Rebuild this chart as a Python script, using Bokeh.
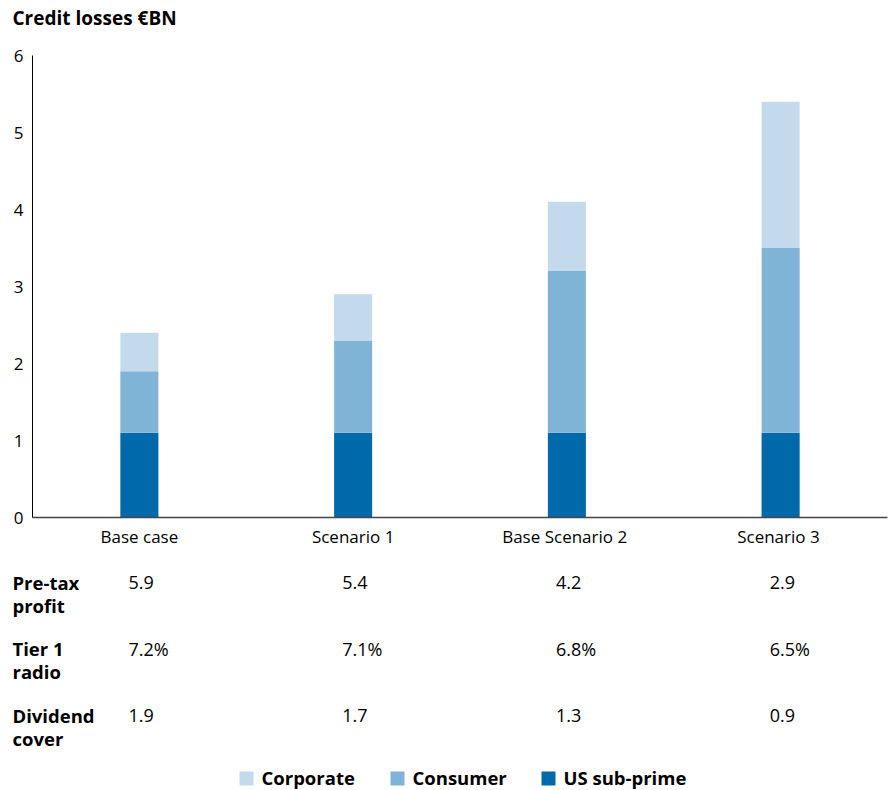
from bokeh.plotting import figure
from bokeh.models import Range1d, FactorRange, FixedTicker, ColumnDataSource
from bokeh.layouts import column
from bokeh.core.properties import value
from bokeh.embed import file_html
from bokeh.resources import INLINE

# ---- data ----
title_text = "Credit losses €BN"
categories = ["Base case", "Scenario 1", "Base Scenario  2", "Scenario  3"]
series_names = ["US sub-prime", "Consumer", "Corporate"]
us_subprime = [1.1, 1.1, 1.1, 1.1]
consumer = [0.8, 1.2, 2.1, 2.4]
corporate = [0.5, 0.6, 0.9, 1.9]
y_ticks = [0, 1, 2, 3, 4, 5, 6]

row_labels = ["Pre-tax\nprofit", "Tier 1\nradio", "Dividend\ncover"]
pretax_profit = ["5.9", "5.4", "4.2", "2.9"]
tier1_ratio = ["7.2%", "7.1%", "6.8%", "6.5%"]
dividend_cover = ["1.9", "1.7", "1.3", "0.9"]

legend_order = ["Corporate", "Consumer", "US sub-prime"]
colors = {"US sub-prime": "#0069a9", "Consumer": "#80b4d6", "Corporate": "#c2daeb"}

FONT = "Open Sans"
W = 890
LEFT, RIGHT = 32, 3
TOP = 55
H1 = 555
H2 = 235
FRAME_W = W - LEFT - RIGHT
CAT_PX = FRAME_W / len(categories)

# ---- chart ----
src = ColumnDataSource(dict(cat=categories, us=us_subprime, con=consumer, corp=corporate))
p = figure(x_range=FactorRange(*categories), y_range=Range1d(0, 6),
           width=W, height=H1, output_backend="svg", toolbar_location=None,
           min_border_left=LEFT, min_border_right=RIGHT, min_border_bottom=38,
           min_border_top=TOP)
p.vbar_stack(["us", "con", "corp"], x="cat", width=0.178, source=src,
             color=[colors["US sub-prime"], colors["Consumer"], colors["Corporate"]],
             line_width=0)

p.outline_line_color = None
p.xgrid.visible = False
p.ygrid.visible = False

p.yaxis.ticker = FixedTicker(ticks=y_ticks)
p.yaxis.bounds = (0, 6)
p.yaxis.major_tick_out = 0
p.yaxis.major_tick_in = 0
p.yaxis.minor_tick_out = 0
p.yaxis.minor_tick_in = 0
p.yaxis.major_label_standoff = 9
p.yaxis.major_label_text_font = FONT
p.yaxis.major_label_text_font_size = "17px"
p.yaxis.major_label_text_color = "black"
p.yaxis.axis_line_color = "black"

p.xaxis.major_tick_out = 0
p.xaxis.major_tick_in = 0
p.xaxis.major_label_standoff = 7
p.xaxis.major_label_text_font = FONT
p.xaxis.major_label_text_font_size = "17px"
p.xaxis.major_label_text_color = "black"
p.xaxis.axis_line_color = "#444444"
p.xaxis.axis_line_width = 1.5

# title: text glyph placed above the frame's top-left corner (overlay level, not clipped)
tsrc = ColumnDataSource(dict(x=[categories[0]], y=[y_ticks[-1]], t=[title_text]))
p.text(x="x", y="y", text="t", source=tsrc, level="overlay",
       x_offset=12 - LEFT - CAT_PX / 2, y_offset=17 - TOP,
       text_font=value(FONT), text_font_size="19px", text_font_style="bold",
       text_baseline="middle", text_align="left", text_color="black")

# ---- table and legend (frame aligned with the chart frame) ----
q = figure(x_range=Range1d(0, FRAME_W), y_range=Range1d(H2, 0), width=W, height=H2,
           output_backend="svg", toolbar_location=None,
           min_border_left=LEFT, min_border_right=RIGHT,
           min_border_top=0, min_border_bottom=0)
q.extra_x_ranges = {"cat": Range1d(0, len(categories))}
q.xaxis.visible = False
q.yaxis.visible = False
q.xgrid.visible = False
q.ygrid.visible = False
q.outline_line_color = None

row_y = [27, 93, 160]
LINE_STEP = 23
lx, ly, lt = [], [], []
for y, lab in zip(row_y, row_labels):
    for k, line in enumerate(lab.split("\n")):
        lx.append(12 - LEFT)
        ly.append(y + k * LINE_STEP)
        lt.append(line)
q.text(x=lx, y=ly, text=lt, level="overlay",
       text_font=value(FONT), text_font_size="18.5px", text_font_style="bold",
       text_baseline="middle", text_align="left", text_color="black")

xs = [i + 0.5 for i in range(len(categories))]
for y, vals in zip(row_y, [pretax_profit, tier1_ratio, dividend_cover]):
    q.text(x=xs, y=[y] * len(vals), text=vals, x_range_name="cat",
           x_offset=-11, text_font=value(FONT), text_font_size="18px",
           text_baseline="middle", text_align="left", text_color="black")

leg_px = [239, 390, 541]
leg_y = 222
q.rect(x=[x + 7 - LEFT for x in leg_px], y=[leg_y + 1] * 3, width=14, height=14,
       color=[colors[n] for n in legend_order], line_width=0)
q.text(x=[x + 22 - LEFT for x in leg_px], y=[leg_y] * 3, text=legend_order,
       text_font=value(FONT), text_font_size="18.5px", text_font_style="bold",
       text_baseline="middle", text_align="left", text_color="black")

layout = column(p, q, spacing=0)
open("out.html", "w").write(file_html(layout, INLINE))
